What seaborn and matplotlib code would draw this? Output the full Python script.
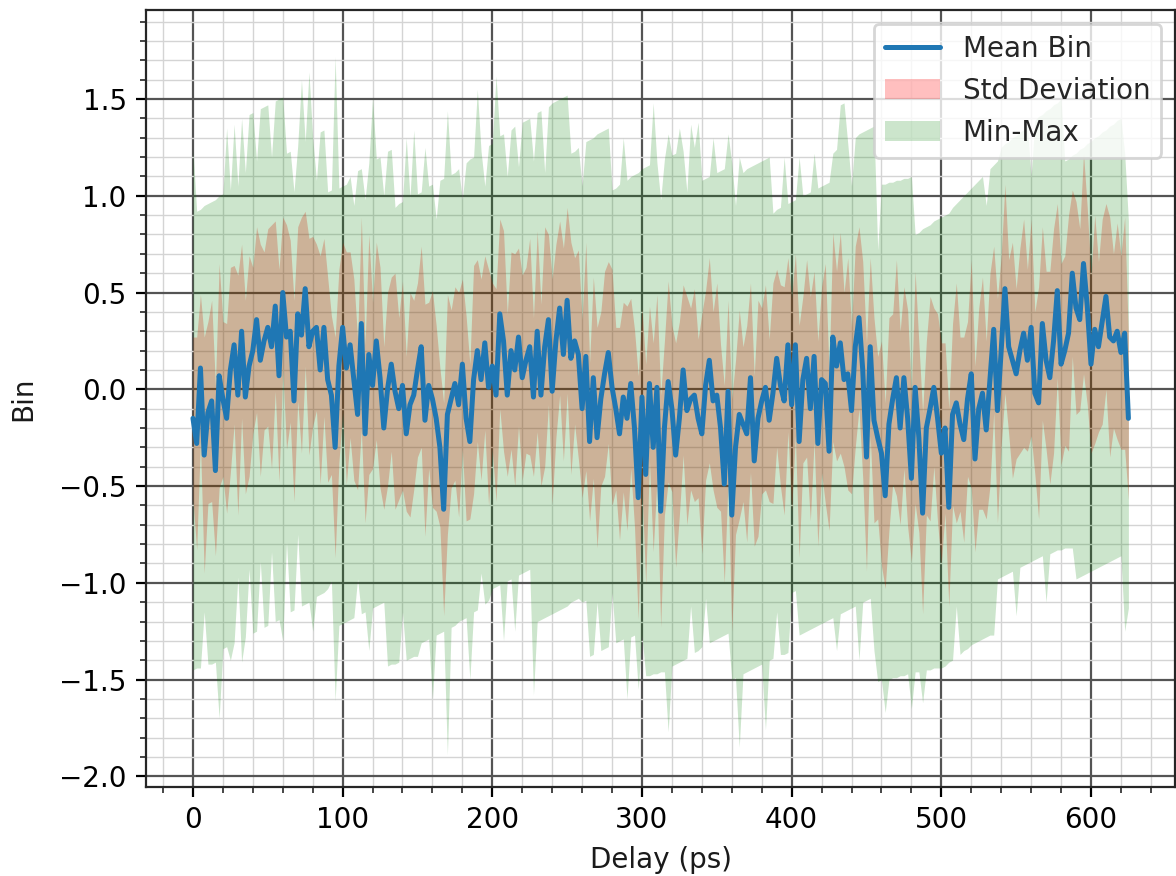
import numpy as np
import matplotlib
matplotlib.use("Agg")
import matplotlib.pyplot as plt
from matplotlib.ticker import MultipleLocator
import seaborn as sns

sns.set_style("ticks")

# sample spacing of the delay axis (ps)
step_ps = 2.5

mean_bin = [
    -0.15, -0.28, 0.11, -0.34, -0.12, -0.06, -0.42, 0.07, -0.05, -0.15,
    0.10, 0.23, -0.03, 0.30, -0.04, 0.12, 0.20, 0.36, 0.15, 0.25,
    0.32, 0.22, 0.43, 0.07, 0.50, 0.27, 0.30, -0.06, 0.39, 0.28,
    0.52, 0.22, 0.30, 0.32, 0.10, 0.32, 0.05, -0.03, -0.30, 0.12,
    0.32, 0.11, 0.23, 0.05, -0.13, 0.34, -0.23, 0.18, 0.02, 0.25,
    0.06, -0.20, 0.00, 0.13, -0.01, -0.10, 0.02, -0.23, -0.08, -0.03,
    0.10, 0.22, -0.16, 0.02, -0.05, -0.15, -0.30, -0.62, -0.13, -0.05,
    0.03, -0.08, 0.13, -0.15, -0.27, 0.05, 0.20, 0.05, 0.24, 0.01,
    0.12, -0.03, 0.39, 0.25, -0.03, 0.20, 0.10, 0.27, 0.06, 0.15,
    0.22, -0.04, 0.30, -0.03, 0.22, 0.36, -0.01, 0.25, 0.42, 0.18,
    0.46, 0.16, 0.25, 0.18, -0.10, 0.17, -0.27, 0.06, -0.25, -0.05,
    0.08, 0.19, 0.01, -0.10, -0.23, -0.04, -0.15, 0.03, -0.20, -0.56,
    -0.04, -0.44, 0.03, -0.30, 0.01, -0.63, -0.20, 0.04, -0.10, -0.34,
    -0.15, 0.10, -0.11, -0.05, -0.03, -0.15, -0.23, 0.02, 0.15, -0.06,
    -0.03, -0.20, -0.49, -0.01, -0.65, -0.30, -0.13, -0.18, -0.23, 0.06,
    -0.37, -0.15, -0.06, 0.01, -0.16, -0.02, 0.16, 0.02, -0.06, 0.23,
    -0.08, 0.23, -0.27, 0.05, 0.16, -0.10, 0.17, -0.28, 0.05, 0.03,
    -0.32, 0.27, 0.12, 0.24, 0.05, 0.08, -0.11, 0.22, 0.37, 0.10,
    -0.35, 0.22, -0.16, -0.25, -0.33, -0.55, -0.18, -0.05, 0.06, -0.20,
    0.06, -0.15, -0.46, 0.01, -0.25, -0.64, -0.20, -0.10, 0.01, -0.15,
    -0.33, -0.20, -0.61, -0.13, -0.07, -0.18, -0.26, -0.05, 0.08, -0.36,
    -0.10, -0.02, -0.21, 0.05, 0.31, -0.11, 0.20, 0.52, 0.22, 0.15,
    0.08, 0.20, 0.29, 0.15, 0.32, -0.02, -0.07, 0.34, 0.15, 0.06,
    0.25, 0.51, 0.13, 0.20, 0.29, 0.60, 0.42, 0.36, 0.65, 0.43,
    0.13, 0.31, 0.22, 0.35, 0.48, 0.27, 0.25, 0.30, 0.19, 0.29,
    -0.15,
]

std_bin = [
    0.42, 0.55, 0.38, 0.61, 0.47, 0.52, 0.44, 0.58, 0.40, 0.49,
    0.53, 0.41, 0.62, 0.45, 0.50, 0.57, 0.43, 0.48, 0.60, 0.46,
    0.51, 0.63, 0.44, 0.55, 0.39, 0.58, 0.47, 0.52, 0.45, 0.61,
    0.40, 0.56, 0.49, 0.43, 0.59, 0.46, 0.53, 0.41, 0.57, 0.50,
    0.44, 0.60, 0.48, 0.52, 0.39, 0.55, 0.46, 0.62, 0.43, 0.51,
    0.57, 0.42, 0.50, 0.45, 0.61, 0.47, 0.54, 0.40, 0.58, 0.49,
    0.45, 0.52, 0.60, 0.43, 0.56, 0.48, 0.41, 0.55, 0.62, 0.46,
    0.50, 0.58, 0.44, 0.53, 0.40, 0.59, 0.47, 0.52, 0.45, 0.61,
    0.43, 0.55, 0.49, 0.57, 0.42, 0.51, 0.60, 0.46, 0.53, 0.48,
    0.56, 0.41, 0.52, 0.47, 0.62, 0.44, 0.58, 0.50, 0.45, 0.55,
    0.48, 0.60, 0.43, 0.54, 0.46, 0.59, 0.41, 0.52, 0.57, 0.45,
    0.53, 0.47, 0.61, 0.42, 0.55, 0.49, 0.58, 0.44, 0.51, 0.63,
    0.46, 0.57, 0.40, 0.54, 0.48, 0.60, 0.45, 0.52, 0.43, 0.58,
    0.50, 0.44, 0.59, 0.47, 0.55, 0.41, 0.62, 0.49, 0.53, 0.46,
    0.58, 0.43, 0.51, 0.47, 0.60, 0.45, 0.54, 0.40, 0.56, 0.49,
    0.44, 0.61, 0.48, 0.53, 0.42, 0.57, 0.46, 0.52, 0.59, 0.45,
    0.55, 0.47, 0.60, 0.43, 0.51, 0.58, 0.44, 0.53, 0.48, 0.62,
    0.41, 0.54, 0.49, 0.57, 0.45, 0.60, 0.43, 0.52, 0.47, 0.56,
    0.59, 0.46, 0.53, 0.42, 0.58, 0.48, 0.55, 0.44, 0.61, 0.50,
    0.47, 0.56, 0.43, 0.60, 0.49, 0.52, 0.45, 0.58, 0.41, 0.54,
    0.57, 0.44, 0.51, 0.47, 0.62, 0.45, 0.53, 0.40, 0.59, 0.48,
    0.52, 0.60, 0.46, 0.55, 0.43, 0.58, 0.49, 0.54, 0.45, 0.61,
    0.44, 0.53, 0.59, 0.47, 0.56, 0.42, 0.60, 0.50, 0.46, 0.55,
    0.58, 0.45, 0.52, 0.49, 0.61, 0.43, 0.55, 0.47, 0.57, 0.51,
    0.46, 0.59, 0.44, 0.53, 0.48, 0.62, 0.45, 0.56, 0.50, 0.60,
    0.42,
]

max_bin = [
    1.24, 0.92, 0.93, 0.95, 0.96, 0.97, 0.98, 1.00, 1.01, 1.35,
    1.03, 1.37, 1.05, 1.40, 1.12, 1.42, 1.43, 1.18, 1.45, 1.46,
    1.47, 1.20, 1.49, 1.50, 1.51, 1.22, 1.23, 1.02, 1.26, 1.60,
    1.28, 1.64, 1.30, 1.08, 1.33, 1.34, 1.02, 1.03, 1.72, 1.04,
    1.05, 1.06, 1.10, 0.95, 1.13, 1.14, 0.98, 1.17, 1.51, 1.19,
    1.20, 1.00, 1.23, 1.24, 0.94, 0.96, 0.97, 1.30, 0.99, 1.34,
    1.01, 1.02, 1.25, 1.05, 1.06, 0.88, 1.08, 1.09, 1.44, 1.11,
    1.12, 1.14, 0.98, 1.17, 1.19, 1.20, 1.55, 1.23, 1.05, 1.26,
    1.27, 1.62, 1.31, 1.32, 1.10, 1.34, 1.36, 1.15, 1.38, 1.39,
    1.40, 1.18, 1.43, 1.44, 1.12, 1.46, 1.48, 1.49, 1.50, 1.51,
    1.52, 1.22, 1.23, 1.25, 1.05, 1.28, 1.29, 1.30, 1.32, 1.33,
    1.34, 1.35, 1.03, 1.04, 1.06, 1.30, 1.08, 1.10, 1.11, 1.12,
    1.14, 1.15, 1.16, 1.48, 1.17, 0.98, 1.19, 1.32, 1.21, 1.22,
    1.35, 1.23, 1.02, 1.37, 1.25, 1.38, 1.08, 1.09, 1.10, 1.30,
    1.12, 1.13, 1.14, 1.32, 1.17, 0.95, 1.20, 1.12, 1.14, 1.15,
    1.16, 1.17, 1.18, 1.19, 1.20, 0.91, 0.93, 0.94, 1.20, 0.96,
    0.97, 0.98, 1.20, 1.00, 1.01, 1.02, 1.22, 1.04, 1.05, 1.06,
    1.07, 1.22, 1.24, 1.47, 1.48, 1.27, 1.05, 1.30, 1.32, 1.33,
    1.34, 1.35, 1.36, 0.72, 1.06, 1.06, 1.07, 1.07, 1.08, 1.08,
    1.09, 1.09, 1.10, 0.80, 0.81, 0.83, 0.84, 0.85, 0.87, 0.88,
    0.89, 0.90, 0.91, 0.94, 0.96, 0.98, 1.00, 1.02, 1.04, 1.06,
    1.08, 1.10, 0.95, 1.14, 1.16, 1.18, 1.25, 1.27, 1.28, 1.30,
    1.31, 1.33, 1.34, 1.36, 1.10, 1.39, 1.41, 1.42, 1.44, 1.45,
    1.47, 1.48, 1.50, 1.18, 1.19, 1.21, 1.22, 1.24, 1.25, 1.27,
    1.28, 1.30, 1.31, 1.33, 1.34, 1.36, 1.37, 1.39, 1.40, 1.22,
    0.87,
]

min_bin = [
    -1.45, -1.44, -1.44, -1.15, -1.42, -1.42, -1.41, -1.70, -1.34, -1.33,
    -1.40, -1.31, -0.97, -1.41, -1.28, -0.93, -1.26, -1.25, -0.89, -1.23,
    -1.22, -0.84, -1.20, -1.19, -1.30, -0.79, -1.15, -1.14, -0.75, -1.12,
    -1.11, -1.10, -1.25, -1.07, -1.06, -1.05, -1.03, -0.99, -1.61, -1.22,
    -1.21, -1.20, -1.19, -1.18, -0.98, -1.16, -1.15, -1.35, -1.13, -1.12,
    -1.11, -1.10, -1.43, -1.42, -1.42, -1.41, -1.15, -1.40, -1.39, -1.38,
    -1.38, -1.31, -1.30, -1.29, -1.60, -1.27, -1.26, -1.25, -1.89, -1.23,
    -1.22, -1.20, -1.19, -1.18, -1.50, -1.15, -1.14, -0.95, -1.11, -1.09,
    -1.03, -1.02, -1.01, -1.30, -0.99, -0.98, -1.25, -0.96, -0.95, -0.94,
    -0.93, -1.58, -1.20, -1.19, -1.18, -1.17, -1.16, -1.15, -1.14, -1.13,
    -1.12, -1.10, -1.09, -1.08, -1.10, -1.09, -1.38, -1.37, -1.10, -1.35,
    -1.34, -1.33, -1.05, -1.31, -1.30, -1.29, -1.60, -1.28, -1.27, -1.55,
    -1.27, -1.48, -1.48, -1.47, -1.47, -1.46, -1.46, -1.77, -1.43, -1.42,
    -1.41, -1.40, -1.39, -1.12, -1.36, -1.35, -1.33, -1.08, -1.31, -1.30,
    -1.29, -1.28, -1.27, -1.26, -1.50, -1.49, -1.85, -1.47, -1.46, -1.45,
    -1.44, -1.43, -1.42, -1.76, -1.40, -1.39, -1.15, -1.37, -1.37, -1.36,
    -1.05, -1.04, -1.27, -1.26, -1.25, -1.24, -1.23, -1.22, -1.21, -1.20,
    -1.19, -1.18, -1.35, -1.16, -1.15, -1.14, -1.13, -1.12, -1.40, -1.10,
    -1.09, -1.08, -1.35, -1.51, -1.50, -1.67, -1.50, -1.49, -1.49, -1.48,
    -1.48, -1.47, -1.65, -1.46, -1.46, -1.62, -1.45, -1.45, -1.44, -1.44,
    -1.44, -1.43, -1.41, -1.40, -1.12, -1.37, -1.35, -1.34, -1.32, -1.31,
    -1.30, -1.29, -1.28, -1.27, -1.27, -0.98, -0.97, -0.96, -0.95, -0.94,
    -1.17, -0.92, -0.91, -0.90, -0.89, -0.88, -0.87, -0.86, -1.10, -0.85,
    -0.84, -0.83, -0.83, -0.82, -0.82, -0.82, -0.98, -0.97, -0.96, -0.95,
    -0.94, -0.93, -0.92, -0.91, -0.90, -0.89, -0.88, -0.87, -0.86, -1.25,
    -1.13,
]

delay_ps = np.arange(len(mean_bin)) * step_ps
mean = np.array(mean_bin)
std = np.array(std_bin)

fig = plt.figure(figsize=(5.88, 4.38), dpi=200)
ax = fig.add_axes([0.1243, 0.1016, 0.875, 0.887])

sns.lineplot(x=delay_ps, y=mean, ax=ax, color="#1f77b4", linewidth=1.8,
             label="Mean Bin")
ax.fill_between(delay_ps, mean - std, mean + std, color="red", alpha=0.25,
                linewidth=0, label="Std Deviation")
ax.fill_between(delay_ps, min_bin, max_bin, color="green", alpha=0.2,
                linewidth=0, label="Min-Max")

ax.set_xlim(-31.25, 656.25)
ax.set_ylim(-2.055, 1.96)
ax.xaxis.set_major_locator(MultipleLocator(100))
ax.xaxis.set_minor_locator(MultipleLocator(20))
ax.yaxis.set_major_locator(MultipleLocator(0.5))
ax.yaxis.set_minor_locator(MultipleLocator(0.1))
ax.grid(which="major", color="0.33", linewidth=0.8)
ax.grid(which="minor", color="0.83", linewidth=0.5)
ax.tick_params(colors="black")

ax.set_xlabel("Delay (ps)", color="0.1")
ax.set_ylabel("Bin", color="0.1", labelpad=8)
ax.legend(loc="upper right", fontsize=10, framealpha=0.8)

fig.savefig("out.png", dpi=200)
